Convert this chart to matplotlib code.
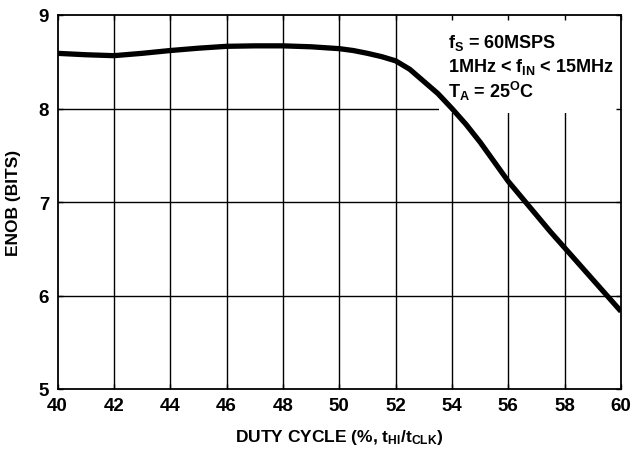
import matplotlib
matplotlib.use("Agg")
import matplotlib.pyplot as plt
from matplotlib.patches import Rectangle

plt.rcParams['font.family'] = ['Liberation Sans', 'DejaVu Sans']
plt.rcParams['font.weight'] = 'bold'
plt.rcParams['mathtext.fontset'] = 'custom'
plt.rcParams['mathtext.rm'] = 'Liberation Sans:bold'
plt.rcParams['mathtext.it'] = 'Liberation Sans:bold'
plt.rcParams['mathtext.bf'] = 'Liberation Sans:bold'
plt.rcParams['mathtext.default'] = 'bf'

# ENOB vs duty cycle
duty_cycle = [40, 41, 42, 43, 44, 45, 46, 47, 48, 49, 50, 50.5,
              51, 51.5, 52, 52.5, 53, 53.5, 54, 54.5, 55, 55.5,
              56, 56.5, 57, 57.5, 58, 59, 60]
enob = [8.59, 8.575, 8.565, 8.59, 8.62, 8.645, 8.665, 8.67, 8.67, 8.66, 8.64, 8.62,
        8.59, 8.555, 8.51, 8.42, 8.29, 8.16, 8.00, 7.83, 7.64, 7.43,
        7.22, 7.04, 6.86, 6.68, 6.51, 6.17, 5.83]

x_ticks = [40, 42, 44, 46, 48, 50, 52, 54, 56, 58, 60]
y_ticks = [5, 6, 7, 8, 9]

fig = plt.figure(figsize=(6.31, 4.52), dpi=100)
ax = fig.add_axes([57.5 / 631, 1 - 390 / 452, 563.5 / 631, 374 / 452])

# grid drawn by hand so the note box can cover it but not the ticks
for xv in x_ticks[1:-1]:
    ax.axvline(xv, color='black', lw=1.0, zorder=1)
for yv in y_ticks[1:-1]:
    ax.axhline(yv, color='black', lw=1.0, zorder=1)
ax.add_patch(Rectangle((53.55, 7.95), 6.45, 1.05, facecolor='white',
                       edgecolor='none', zorder=1.2))

ax.plot(duty_cycle, enob, color='black', lw=3.8, solid_capstyle='butt',
        solid_joinstyle='round', zorder=3)

ax.set_xlim(40, 60)
ax.set_ylim(5, 9)
ax.set_xticks(x_ticks)
ax.set_yticks(y_ticks)
ax.tick_params(direction='in', top=True, right=True, length=3.5, width=1.0,
               labelsize=13.5, pad=6)
for s in ax.spines.values():
    s.set_linewidth(1.3)

ax.set_xlabel(r"DUTY CYCLE (%, t$_{HI}$/t$_{CLK}$)", fontsize=12.5,
              fontweight='bold', labelpad=9)
ax.set_ylabel("ENOB (BITS)", fontsize=12.5, fontweight='bold', labelpad=13)

tx = (448 - 57.5) / 563.5
ax.text(tx, 1 - (43 - 16) / 374, r"f$_{S}$ = 60MSPS", transform=ax.transAxes,
        fontsize=13, va='center', ha='left', zorder=4)
ax.text(tx, 1 - (67 - 16) / 374, r"1MHz < f$_{IN}$ < 15MHz", transform=ax.transAxes,
        fontsize=13, va='center', ha='left', zorder=4)
ax.text(tx, 1 - (91 - 16) / 374, r"T$_{A}$ = 25$^{O}$C", transform=ax.transAxes,
        fontsize=13, va='center', ha='left', zorder=4)

fig.savefig("out.png", dpi=100)
